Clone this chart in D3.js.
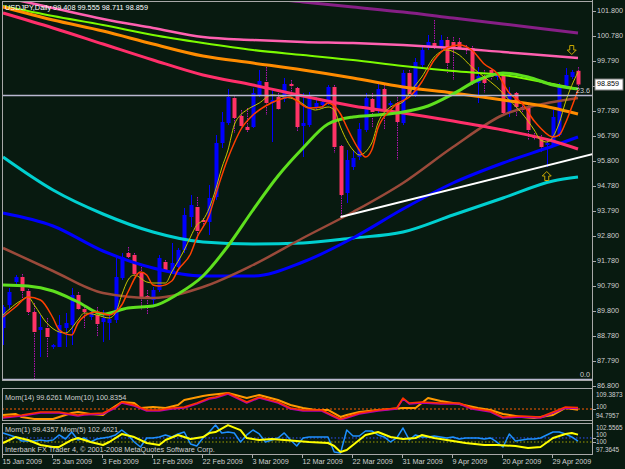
<!DOCTYPE html>
<html><head><meta charset="utf-8">
<script src="https://cdn.jsdelivr.net/npm/d3@7"></script>
<style>body{margin:0;background:#081a10;}svg{display:block}</style>
</head><body>
<svg id="c" width="625" height="469"></svg>
<script>
// ---------------- DATA ----------------
const symbol = "USDJPY,Daily";
const dateLabels = ["15 Jan 2009","25 Jan 2009","3 Feb 2009","12 Feb 2009","22 Feb 2009","3 Mar 2009","12 Mar 2009","22 Mar 2009","31 Mar 2009","9 Apr 2009","20 Apr 2009","29 Apr 2009"];
const dateLabelBars = [0,8,16,24,32,40,48,56,64,72,80,88];
const priceTicks = [101.800,100.780,99.790,98.800,97.780,96.790,95.800,94.780,93.790,92.800,91.780,90.790,89.800,88.780,87.790,86.800];

const opens = [89.12,90.04,90.96,91.16,90.60,89.76,89.04,89.12,88.36,88.36,
89.12,89.24,90.44,89.88,89.56,89.64,89.36,89.32,89.44,91.12,
92.12,92.04,91.32,90.40,90.24,90.64,91.76,91.36,91.56,92.24,
93.56,93.96,93.44,93.36,94.36,96.52,97.32,98.32,97.60,97.16,
97.16,98.44,98.96,98.12,98.36,98.28,98.88,98.72,97.20,97.24,
97.96,98.04,98.16,98.76,96.40,94.52,95.56,95.96,97.04,98.28,
97.84,98.68,98.04,98.12,97.32,99.32,98.44,99.64,100.32,100.52,
100.36,100.64,100.56,100.56,100.32,100.32,98.92,99.16,99.44,99.16,
99.24,97.72,98.52,97.96,97.96,96.80,96.72,96.44,96.44,96.84,
98.76,99.16,99.408];
const highs = [90.04,90.72,91.24,91.28,90.68,90.12,89.64,89.52,88.48,89.64,
89.72,90.72,90.56,89.96,89.84,89.96,89.84,89.72,91.92,92.12,
92.36,92.12,91.56,90.64,90.76,92.04,91.84,92.52,92.32,93.92,
94.44,94.36,93.52,94.84,96.84,97.76,98.68,98.44,97.84,97.92,
98.72,99.44,99.56,98.64,98.52,99.12,99.04,98.76,98.52,98.56,
98.36,98.28,98.84,98.84,96.44,96.24,96.24,97.32,98.52,98.52,
98.92,98.84,98.20,98.36,99.44,99.44,99.92,100.44,100.84,101.44,
100.84,100.76,100.76,100.72,100.44,100.40,99.56,99.44,99.52,99.36,
99.32,98.76,98.56,98.12,98.12,96.92,96.84,96.72,97.84,98.92,
99.52,99.44,99.555];
const lows = [88.44,89.84,90.84,90.24,89.64,87.04,87.96,87.96,88.28,88.36,
88.36,88.44,89.84,89.12,89.44,88.76,88.56,88.64,89.32,91.04,
91.92,91.20,89.84,89.64,90.04,90.56,91.36,91.36,91.52,92.12,
93.16,92.52,93.24,92.84,94.24,96.32,97.24,96.92,97.12,96.96,
97.12,98.36,97.64,96.56,97.84,98.16,98.56,96.96,95.96,97.16,
97.84,97.92,98.04,96.12,93.56,94.12,95.44,95.84,96.96,97.16,
97.72,97.04,97.96,95.84,97.24,98.36,98.36,99.56,100.24,100.24,
100.24,99.32,99.04,100.24,100.04,98.84,98.12,98.52,99.04,99.04,
97.64,97.56,97.56,97.72,96.64,96.64,96.16,95.56,96.36,96.76,
98.72,99.08,98.711];
const closes = [89.96,90.56,91.16,90.60,89.76,88.96,89.16,88.76,88.44,89.24,
89.32,90.44,89.88,89.76,89.72,89.28,89.52,89.48,91.16,91.96,
91.96,91.28,90.36,90.28,90.64,91.92,91.44,91.72,92.24,93.64,
94.04,93.00,93.36,94.32,96.52,97.36,98.36,97.52,97.20,97.04,
98.52,99.00,98.12,98.24,97.88,98.88,98.80,97.16,97.32,98.32,
98.12,98.16,98.76,96.36,94.44,95.84,95.92,97.08,98.32,97.76,
98.68,97.84,98.12,97.36,99.32,98.48,99.76,100.24,100.56,100.36,
100.64,99.72,100.32,100.32,100.24,98.92,99.20,98.92,99.16,99.28,
97.72,98.52,97.96,97.84,97.04,96.72,96.36,96.52,97.56,98.76,
99.24,99.36,98.859];

// long moving averages at every 8th bar
const longBars = [0,8,16,24,32,40,48,56,64,72,80,88,92];
const maPink    = [102.36,101.92,101.48,101.12,100.76,100.64,100.56,100.52,100.44,100.32,100.16,100.00,99.92];
const maLawn    = [102.00,101.60,101.24,100.84,100.52,100.24,100.04,99.84,99.60,99.40,99.24,98.88,98.68];
const maOrange  = [101.96,101.44,101.00,100.48,100.00,99.72,99.44,99.12,98.76,98.52,98.24,97.92,97.68];
const maCrimson = [101.72,101.12,100.48,99.84,99.24,98.84,98.40,98.00,97.72,97.40,97.04,96.60,96.28];
const maBrown   = [92.32,91.40,90.52,90.32,90.76,91.64,92.72,93.76,94.92,96.36,97.64,98.16,98.32];
const maBlue    = [93.72,93.20,92.20,91.52,91.20,91.20,91.76,92.72,93.88,94.92,95.72,96.40,96.76];
const maCyan    = [95.96,94.64,93.68,92.96,92.56,92.48,92.52,92.72,92.96,93.64,94.32,95.00,95.16];
const purpleBars = [32,40,48,56,64,72,80,88,92];
const maPurple  = [102.60,102.36,102.16,101.96,101.76,101.52,101.28,101.04,100.92];
const greenBars = [0,4,8,12,16,20,24,28,32,36,40,44,48,52,56,60,64,68,72,76,80,84,88,92];
const maGreen   = [90.84,90.80,90.60,90.16,89.68,89.92,90.00,90.48,91.20,92.40,93.84,95.20,96.32,97.28,97.56,97.64,97.76,98.00,98.48,99.04,99.32,99.16,98.84,98.68];

// short moving averages
const redBars = [0,2,4,6,8,9,11,12,14,15,17,18,19,20,22,23,24,25,27,28,30,31,33,34,36,37,38,40,42,44,46,47,49,51,52,54,55,57,58,59,60,62,63,65,67,69,71,73,75,77,79,81,83,85,86,88,89,90,91,92];
const maRed = [89.56,89.96,90.36,90.24,89.52,89.04,88.84,89.32,89.72,89.76,89.64,89.76,90.04,90.56,91.36,91.24,90.84,90.80,91.00,91.44,92.08,92.72,93.64,94.44,95.92,96.52,97.04,97.64,98.00,98.24,98.36,98.20,97.92,97.96,98.12,97.68,97.16,96.24,95.96,96.24,97.12,97.84,98.08,98.36,98.96,99.84,100.32,100.44,100.24,99.68,99.32,98.52,98.12,97.40,97.12,96.76,96.84,97.32,97.96,98.64];
const yellowBars = [0,3,4,5,7,9,10,12,13,15,17,18,19,20,21,23,24,26,27,29,30,31,32,33,34,35,36,37,38,39,41,43,45,47,49,50,52,53,54,56,57,59,60,62,64,65,67,69,71,73,75,77,79,81,83,85,86,87,89,90,92];
const maYellow = [89.64,90.24,90.36,90.04,89.32,88.96,88.92,89.44,89.72,89.64,89.52,89.72,90.44,91.04,91.24,90.96,90.92,90.92,91.36,92.24,92.76,93.24,93.44,93.92,94.64,95.52,96.24,97.24,97.64,97.84,98.12,98.44,98.36,98.24,97.92,97.84,97.96,97.84,97.16,96.24,96.04,96.52,97.32,97.96,98.16,98.52,99.16,99.96,100.24,100.04,99.56,99.16,98.76,98.24,97.72,97.04,96.64,96.56,97.32,98.16,99.36];

// objects
const fibLabels = ["23.6","0.0"];
const fibPrices = [98.42,87.06];
const trendBars = [54,95];
const trendPrices = [93.56,96.12];
const arrowDown = {bar:91, price:100.24};
const arrowUp = {bar:87, price:95.20};

// momentum panel 1
const mom10Bars = [0,3,6,9,12,13,16,18,19,21,23,25,27,29,31,33,34,36,39,41,44,46,48,51,54,57,60,63,64,65,67,70,73,75,78,80,83,86,88,90,92];
const mom10 = [95.84,96.88,98.45,98.45,96.88,97.40,97.93,101.05,103.66,102.10,99.49,99.49,100.53,101.05,103.14,105.74,106.26,108.35,103.66,106.26,103.66,100.53,99.49,99.49,94.80,97.93,99.49,100.53,105.74,103.14,103.66,103.14,103.14,100.53,98.97,95.84,96.36,95.84,98.45,101.05,100.8354];
const mom14Bars = [0,2,3,5,8,9,11,12,14,16,17,19,21,22,24,26,28,29,32,33,36,39,41,44,46,48,50,52,54,55,57,60,62,64,66,68,70,73,76,78,80,83,85,88,90,92];
const mom14 = [96.88,97.40,95.84,94.80,94.80,95.84,97.93,98.45,97.40,96.88,99.49,103.66,103.14,100.53,101.05,100.53,102.10,104.70,106.79,107.31,108.35,105.74,107.31,104.70,102.10,100.53,99.49,99.49,95.84,96.88,98.45,99.49,100.01,100.53,100.53,105.74,104.18,102.62,100.53,99.49,97.41,95.84,95.32,96.88,100.53,99.6261];
const p1Range = [94.7957,109.3873];
const p1Labels = ["109.3873","100","94.7957"];

// momentum panel 2
const mom1 = [100.88,100.53,100.18,99.47,99.47,99.47,99.65,99.47,99.65,100.53,
99.82,101.05,99.65,100.00,99.30,99.82,100.00,100.18,100.53,101.40,
100.53,99.30,98.42,100.00,100.00,100.18,100.53,100.18,100.70,101.05,
98.95,98.60,100.00,101.05,102.28,100.88,101.05,100.88,99.30,100.53,
101.40,100.70,99.30,99.65,100.00,100.88,99.65,98.60,100.00,100.18,
100.18,100.18,100.18,97.54,97.37,101.40,100.35,100.35,101.23,101.23,
100.53,100.18,99.30,100.00,101.75,99.65,100.53,100.18,100.18,100.35,
100.18,100.00,100.18,99.82,100.00,100.00,100.00,99.82,100.00,99.30,
98.42,100.70,99.47,99.65,99.82,99.82,100.00,100.53,101.05,101.05,
100.70,100.18,99.4357];
const mom5Bars = [0,2,4,6,8,9,11,12,14,16,17,19,21,23,25,26,28,30,32,33,34,36,38,39,41,43,45,47,49,52,53,54,55,56,58,60,62,64,66,67,69,72,74,77,79,82,84,86,88,90,91,92];
const mom5 = [99.68,101.61,100.65,99.03,98.39,98.39,100.65,101.29,100.00,99.03,100.00,102.58,101.61,99.68,99.03,100.65,102.26,100.97,101.61,102.90,103.23,105.48,103.87,101.29,100.65,100.97,100.65,100.32,100.00,99.68,98.71,96.77,97.42,99.03,102.26,103.23,101.61,100.97,101.29,102.26,101.29,100.32,99.68,99.03,99.03,98.71,98.06,98.39,101.29,102.58,102.90,102.4021];
const p2Range = [97.3645,102.5565];
const p2Labels = ["102.5565","100","100","97.3645"];
const copyright = "Interbank FX Trader 4, \u00A9 2001-2008 MetaQuotes Software Corp.";

// ---------------- DRAW ----------------
const svg = d3.select("#c");
const FONT = "Liberation Sans, Arial, sans-serif";
const TXT = "#d0d0d0";
const L = 2, R = 593;
const main = {t:1, b:381}, p1 = {t:388, b:421}, p2 = {t:423, b:455};

svg.append("rect").attr("width",625).attr("height",469).attr("fill","#081a10");

const x = d3.scaleLinear().domain([0,92]).range([3,578]);
const y = d3.scaleLinear().domain([86.8,101.8]).range([386,11]);
const y1 = d3.scaleLinear().domain(p1Range).range([419,391]);
const y2 = d3.scaleLinear().domain(p2Range).range([453.0,423.4]);
const y2b = d3.scaleLinear().domain([100,102.4021]).range([442,434.6]);

const defs = svg.append("defs");
function clip(id, t, b){ defs.append("clipPath").attr("id",id).append("rect").attr("x",L).attr("y",t).attr("width",R-L).attr("height",b-t); }
clip("cm",main.t,main.b); clip("c1",p1.t,p1.b); clip("c2",p2.t,p2.b);

const gMain = svg.append("g").attr("clip-path","url(#cm)");

// candles
const idx = d3.range(opens.length);
const cg = gMain.append("g");
idx.forEach(i=>{
  const up = closes[i] >= opens[i];
  const cx = Math.round(x(i)) + 0.5;
  cg.append("line").attr("x1",cx).attr("x2",cx).attr("y1",y(highs[i])).attr("y2",y(lows[i]))
    .attr("stroke", up ? "#0000ff" : "#b010b0").attr("stroke-width",1)
    .attr("stroke-dasharray", up ? null : "1.5,1");
  const top = y(Math.max(opens[i],closes[i])), bot = y(Math.min(opens[i],closes[i]));
  cg.append("rect").attr("x",cx-2).attr("y",top).attr("width",4).attr("height",Math.max(1.5,bot-top))
    .attr("fill", up ? "#0000ff" : "#ff3366");
});

function series(bars, vals, ys){ return bars.map((b,i)=>[x(b), ys(vals[i])]); }
function drawLine(g, pts, color, w, curve, dash){
  g.append("path").attr("d", d3.line().curve(curve||d3.curveMonotoneX)(pts))
   .attr("fill","none").attr("stroke",color).attr("stroke-width",w)
   .attr("stroke-linejoin","round").attr("stroke-dasharray",dash||null);
}
drawLine(gMain, series(longBars, maCyan, y), "#00d0d0", 3);
drawLine(gMain, series(longBars, maBlue, y), "#0000ff", 3);
drawLine(gMain, series(longBars, maBrown, y), "#9a4a3a", 2.5);
drawLine(gMain, series(purpleBars, maPurple, y), "#861f86", 3);
drawLine(gMain, series(longBars, maPink, y), "#ff60b0", 2.5);
drawLine(gMain, series(longBars, maLawn, y), "#7cfc00", 2);
drawLine(gMain, series(longBars, maOrange, y), "#ff8c00", 3);
drawLine(gMain, series(longBars, maCrimson, y), "#ff2f6a", 3);
drawLine(gMain, series(greenBars, maGreen, y), "#5ee01e", 3);
drawLine(gMain, series(yellowBars, maYellow, y), "#c8c400", 1);
drawLine(gMain, series(redBars, maRed, y), "#ff4000", 1.5);

// trend line and fibo
drawLine(gMain, series(trendBars, trendPrices, y), "#ffffff", 2, d3.curveLinear);
fibPrices.forEach((p,i)=>{
  gMain.append("line").attr("x1",L).attr("x2",R).attr("y1",y(p)).attr("y2",y(p)).attr("stroke","#b8b8d0").attr("stroke-width",1.5);
  gMain.append("text").attr("x",590).attr("y",y(p)-4.5).attr("text-anchor","end")
    .attr("dominant-baseline","middle").attr("font-family",FONT).attr("font-size",7.2).attr("fill",TXT).text(fibLabels[i]);
});

// fractal arrows
function arrow(cx, cy, dir){
  const p = d3.path();
  const s = dir; // -1 up, 1 down
  p.moveTo(cx-2, cy - s*4.5); p.lineTo(cx+2, cy - s*4.5); p.lineTo(cx+2, cy); p.lineTo(cx+4.5, cy);
  p.lineTo(cx, cy + s*4.5); p.lineTo(cx-4.5, cy); p.lineTo(cx-2, cy); p.closePath();
  gMain.append("path").attr("d", p.toString()).attr("fill","none").attr("stroke","#c8a800").attr("stroke-width",1);
}
arrow(x(arrowDown.bar), y(arrowDown.price), 1);
arrow(x(arrowUp.bar), y(arrowUp.price), -1);

// panel 1
const g1 = svg.append("g").attr("clip-path","url(#c1)");
g1.append("line").attr("x1",L).attr("x2",R).attr("y1",y1(100)).attr("y2",y1(100)).attr("stroke","#ff5a00").attr("stroke-width",1).attr("stroke-dasharray","2,2");
drawLine(g1, series(mom14Bars, mom14, y1), "#ff9900", 2, d3.curveLinear);
drawLine(g1.append("g").attr("transform","translate(0,1)"), series(mom10Bars, mom10, y1), "#b000b0", 1.5, d3.curveLinear);
drawLine(g1, series(mom10Bars, mom10, y1), "#ff3000", 1.5, d3.curveLinear);

// panel 2
const g2 = svg.append("g").attr("clip-path","url(#c2)");
g2.append("line").attr("x1",L).attr("x2",R).attr("y1",y2(100)).attr("y2",y2(100)).attr("stroke","#3050ff").attr("stroke-width",1).attr("stroke-dasharray","1.5,2");
g2.append("line").attr("x1",L).attr("x2",R).attr("y1",y2b(100)).attr("y2",y2b(100)).attr("stroke","#a0a000").attr("stroke-width",1).attr("stroke-dasharray","1.5,2");
drawLine(g2, series(idx, mom1, y2), "#1e90ff", 1.5, d3.curveLinear);
drawLine(g2, series(mom5Bars, mom5, y2b), "#ffff00", 2, d3.curveLinear);

// frames
const frame = svg.append("g").attr("fill","none").attr("stroke","#a8a8a8").attr("stroke-width",1);
[[main.t,main.b],[p1.t,p1.b],[p2.t,p2.b]].forEach(([t,b])=>{
  frame.append("rect").attr("x",L+0.5).attr("y",t+0.5).attr("width",R-L-1).attr("height",b-t-1);
});
frame.append("line").attr("x1",R-0.5).attr("x2",R-0.5).attr("y1",0).attr("y2",p2.b);

// right price axis
const ax = svg.append("g").attr("font-family",FONT).attr("font-size",7.2).attr("fill",TXT);
priceTicks.forEach(v=>{
  ax.append("line").attr("x1",R).attr("x2",R+3).attr("y1",Math.round(y(v))+0.5).attr("y2",Math.round(y(v))+0.5).attr("stroke","#a8a8a8");
  ax.append("text").attr("x",597).attr("y",y(v)).attr("dominant-baseline","middle").text(d3.format(".3f")(v));
});
// current price box
const last = closes[closes.length-1];
svg.append("rect").attr("x",595).attr("y",y(last)-5.5).attr("width",28).attr("height",11).attr("fill","#ffffff").attr("stroke","#808080");
svg.append("text").attr("x",597).attr("y",y(last)).attr("dominant-baseline","middle").attr("font-family",FONT).attr("font-size",7.2).attr("fill","#000").text(d3.format(".3f")(last));

// panel scale labels (slightly smaller so they fit the right edge)
const pl = svg.append("g").attr("font-family",FONT).attr("font-size",6.4).attr("fill",TXT);
const p1Pos = [395, 407.5, 416];
p1Labels.forEach((t,i)=>{
  pl.append("text").attr("x",596).attr("y",p1Pos[i]).attr("dominant-baseline","middle").text(t);
});
const p2Pos = [428, 435.5, 442.5, 450];
p2Labels.forEach((t,i)=>{
  pl.append("text").attr("x",596).attr("y",p2Pos[i]).attr("dominant-baseline","middle").text(t);
});
// tick marks for panel levels
[[y1(100)],[y2(100)],[y2b(100)]].forEach(([yy])=>{
  pl.append("line").attr("x1",R).attr("x2",R+3).attr("y1",Math.round(yy)+0.5).attr("y2",Math.round(yy)+0.5).attr("stroke","#a8a8a8");
});

// titles
const tt = svg.append("g").attr("font-family",FONT).attr("font-size",7.3).attr("fill",TXT);
tt.append("text").attr("x",5).attr("y",8).attr("dominant-baseline","middle").attr("fill","#ffffff")
  .text(`${symbol}  ${d3.format(".3f")(opens[92])} ${d3.format(".3f")(highs[92])} ${d3.format(".3f")(lows[92])} ${d3.format(".3f")(closes[92])}`);
tt.append("text").attr("x",5).attr("y",398).attr("dominant-baseline","middle")
  .text(`Mom(14) ${d3.format(".4f")(mom14[mom14.length-1])}  Mom(10) ${d3.format(".4f")(mom10[mom10.length-1])}`);
tt.append("text").attr("x",5).attr("y",430).attr("dominant-baseline","middle")
  .text(`Mom(1) ${d3.format(".4f")(mom1[mom1.length-1])}  Mom(5) ${d3.format(".4f")(mom5[mom5.length-1])}`);
tt.append("text").attr("x",5).attr("y",450).attr("dominant-baseline","middle").text(copyright);

// date axis
dateLabelBars.forEach((b,i)=>{
  const xx = Math.round(x(b)) - 0.5;
  ax.append("line").attr("x1",xx).attr("x2",xx).attr("y1",p2.b).attr("y2",p2.b+3).attr("stroke","#a8a8a8");
  ax.append("text").attr("x",xx).attr("y",462).attr("dominant-baseline","middle").text(dateLabels[i]);
});
</script>
</body></html>
